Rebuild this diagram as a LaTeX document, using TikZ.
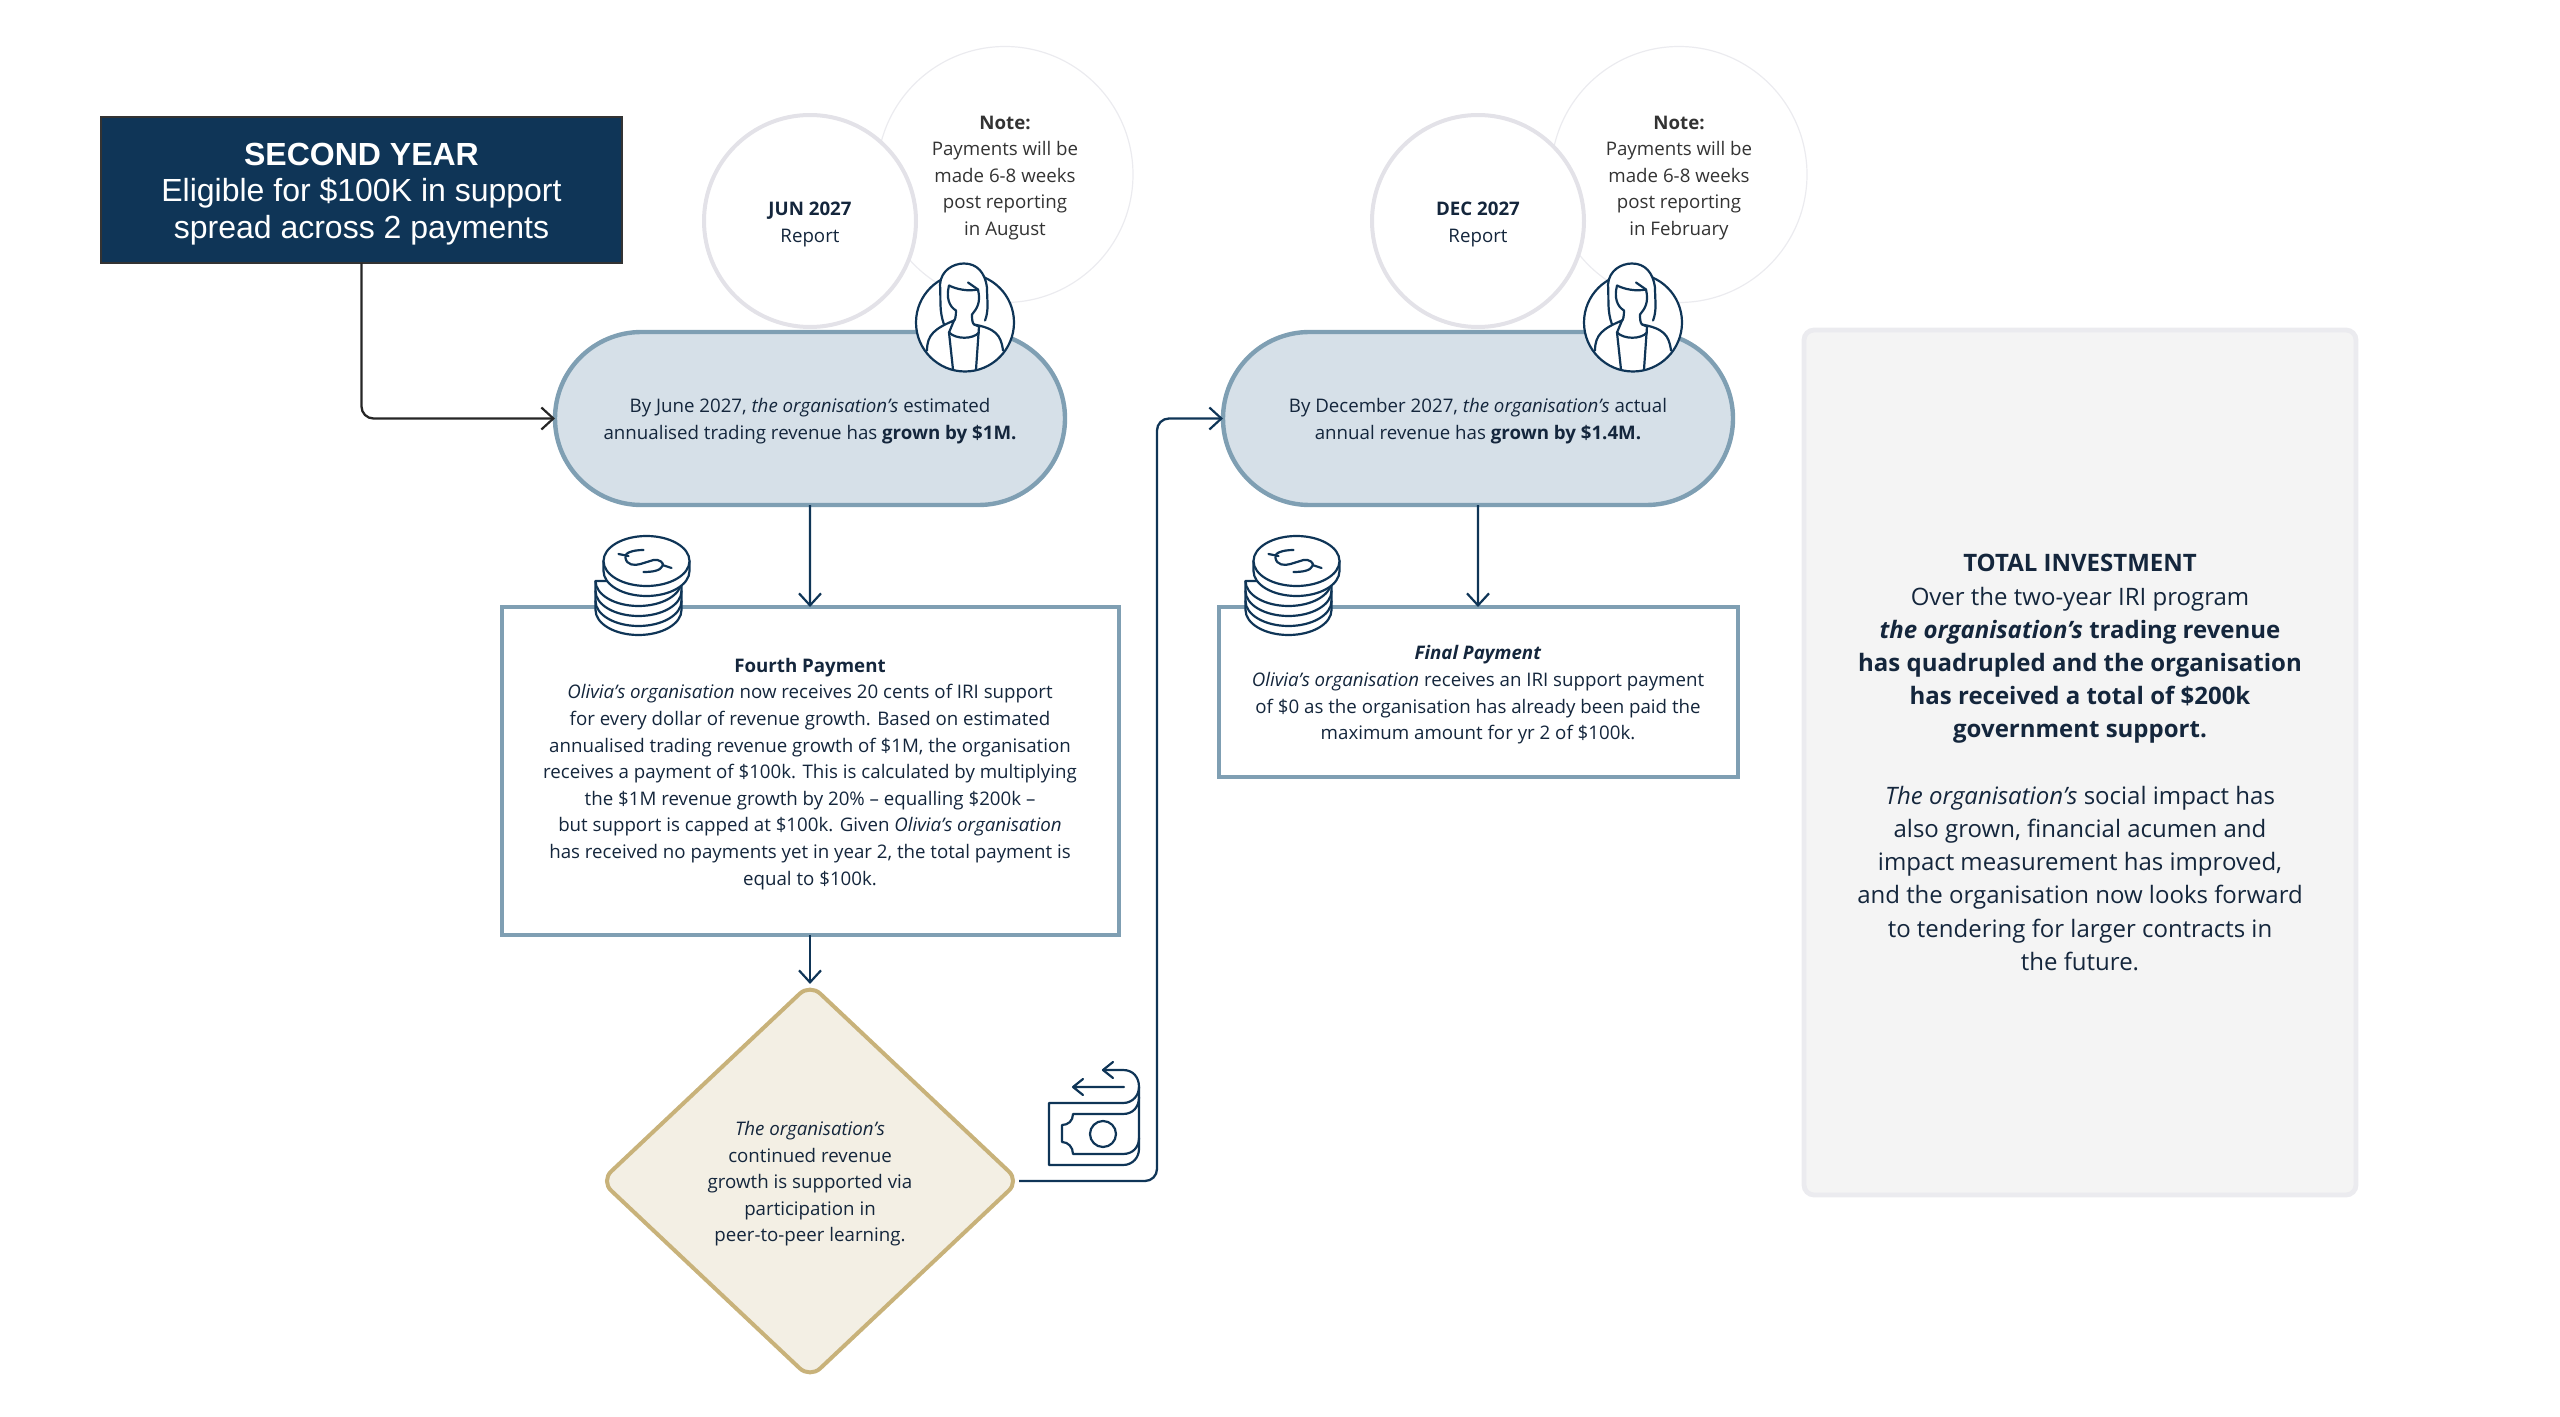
\documentclass[tikz,border=0pt]{standalone}
\usepackage{xcolor}
\usepackage{fontspec}
\setmainfont{Open Sans}
\newfontfamily\headfont{Liberation Sans}
\usetikzlibrary{shapes.geometric, shapes.misc, arrows.meta, positioning, calc}
\definecolor{navyline}{RGB}{15, 53, 87}
\definecolor{inktext}{RGB}{20, 38, 60}
\definecolor{steelline}{RGB}{127, 159, 179}
\definecolor{steelfill}{RGB}{214, 224, 232}
\definecolor{sandline}{RGB}{200, 178, 122}
\definecolor{sandfill}{RGB}{243, 239, 228}
\definecolor{ringgrey}{RGB}{227, 226, 232}
\definecolor{panelfill}{RGB}{244, 244, 244}
\definecolor{notegrey}{RGB}{51, 51, 51}
\newcommand{\lifttext}{\rule{0pt}{10pt}}
\newcommand{\liftlarge}{\rule{0pt}{15.2pt}}

\begin{document}
\begin{tikzpicture}[
    x=0.5pt, y=-0.5pt,
    every node/.style={outer sep=0pt, inner sep=0pt, align=center, text=inktext, font=\fontsize{9.35}{13.3}\selectfont},
    header/.style={rectangle, draw=black!80, line width=0.6pt, fill=navyline, minimum width=260.5pt, minimum height=73pt, text=white, font=\headfont\fontsize{16}{18.4}\selectfont},
    pill/.style={rounded rectangle, draw=steelline, line width=2.2pt, fill=steelfill, minimum width=255pt, minimum height=86.5pt},
    paybox/.style={rectangle, draw=steelline, line width=2pt, fill=white},
    report/.style={circle, draw=ringgrey, line width=2pt, fill=white, minimum size=106pt},
    note/.style={circle, draw=ringgrey!70, line width=0.6pt, minimum size=128pt, text=notegrey},
    decision/.style={diamond, draw=sandline, line width=2pt, fill=sandfill, rounded corners=7pt, minimum width=209pt, minimum height=197pt},
    panel/.style={rectangle, draw=ringgrey!70, line width=2.4pt, rounded corners=5pt, fill=panelfill, minimum width=276pt, minimum height=432.5pt, font=\fontsize{12}{16.6}\selectfont},
    arrow/.style={-{Straight Barb[length=6pt, width=11pt, line width=1.1pt]}, line width=1.15pt, draw=navyline},
    icon/.style={line width=1.1pt, draw=navyline, line join=round, line cap=round},
    personicon/.pic={
        \draw[icon, fill=white] (0,0) circle (49);
        % hair
        \draw[icon, fill=white] (-21,2) .. controls (-26,-12) and (-24,-22) .. (-25,-38) .. controls (-24,-52) and (-12,-59) .. (-1,-59) .. controls (12,-59) and (20,-50) .. (22,-35) .. controls (22,-22) and (24,-12) .. (20,-2);
        % face
        \draw[icon] (3,-40) -- (13,-33) .. controls (16,-20) and (12,-14) .. (7,-8) .. controls (7,-4) and (7,0) .. (9,2);
        \draw[icon] (13,-33) .. controls (3,-31) and (-8,-33) .. (-16,-37) .. controls (-19,-25) and (-16,-16) .. (-9,-12) .. controls (-9,-6) and (-10,-2) .. (-11,-2);
        \draw[icon] (-16,10) .. controls (-9,17) and (8,17) .. (14,10);
        % shoulders and jacket
        \draw[icon] (-38,28) .. controls (-38,12) and (-30,6) .. (-11,-2) -- (-16,10) -- (-12,47);
        \draw[icon] (38,28) .. controls (36,12) and (30,6) .. (9,2) -- (14,4) -- (11,47);
    },
    coinstack/.pic={
        % lower coins
        \draw[icon, fill=white] (-51,20) -- (-51,49) arc[start angle=180, end angle=0, x radius=43, y radius=25] -- (35,20) -- cycle;
        \foreach \lowy in {40,30,20} {
            \draw[icon] (-51,\lowy) arc[start angle=180, end angle=0, x radius=43, y radius=25];
        }
        % top coin
        \draw[icon, fill=white] (-43,0) -- (-43,10) arc[start angle=180, end angle=0, x radius=43, y radius=25] -- (43,0);
        \draw[icon, fill=white] (0,0) ellipse [x radius=43, y radius=25];
        % dollar sign
        \draw[icon] (-3,-11) .. controls (-14,-11) and (-23,-8) .. (-21,-3) .. controls (-20,4) and (-12,5) .. (-6,3) -- (7,-1) .. controls (13,-2) and (18,2) .. (16,5) .. controls (14,10) and (5,11) .. (-3,11);
        \draw[icon] (-28,-7) -- (-18,-5);
        \draw[icon] (16,4) -- (25,7);
    },
    cashicon/.pic={
        % note
        \draw[icon] (74,0) -- (0,0) -- (0,62) -- (74,62) .. controls (84,62) and (90,54) .. (90,46) -- (90,-16) .. controls (90,-26) and (84,-33) .. (74,-33) -- (54,-33);
        \draw[icon] (54,-33) -- +(10,-8) (54,-33) -- +(10,8);
        \draw[icon] (74,0) .. controls (84,0) and (90,-8) .. (90,-16);
        \draw[icon] (90,-6) .. controls (90,4) and (84,11) .. (74,11) -- (24,11) .. controls (24,18) and (19,22) .. (13,22) -- (13,39) .. controls (19,39) and (24,44) .. (24,51) -- (74,51) .. controls (84,51) and (90,44) .. (90,35);
        \draw[icon] (54,31) circle (13);
        \draw[icon] (75,-16) -- (24,-16) (24,-16) -- +(10,-8) (24,-16) -- +(10,8);
    }
]
\useasboundingbox (0,0) rectangle (2560,1417);

% Second year header
\node[header] (header) at (361.5,190) {\liftlarge\textbf{SECOND YEAR}\\Eligible for \$100K in support\\spread across 2 payments};

% Payment flow
\node[pill] (pilljun) at (810,418.5) {\lifttext By June 2027, \textit{the organisation's} estimated\\annualised trading revenue has \textbf{grown by \$1M.}};
\node[paybox, below=51pt of pilljun, minimum width=308.5pt, minimum height=164pt] (boxfourth) {\lifttext\textbf{Fourth Payment}\\\textit{Olivia's organisation} now receives 20 cents of IRI support\\for every dollar of revenue growth. Based on estimated\\annualised trading revenue growth of \$1M, the organisation\\receives a payment of \$100k. This is calculated by multiplying\\the \$1M revenue growth by 20\% -- equalling \$200k --\\but support is capped at \$100k. Given \textit{Olivia's organisation}\\has received no payments yet in year 2, the total payment is\\equal to \$100k.};
\node[decision, below=24.5pt of boxfourth] (learning) {\lifttext\textit{The organisation's}\\continued revenue\\growth is supported via\\participation in\\peer-to-peer learning.};
\node[pill, right=79pt of pilljun] (pilldec) {\lifttext By December 2027, \textit{the organisation's} actual\\annual revenue has \textbf{grown by \$1.4M.}};
\node[paybox, below=51pt of pilldec, minimum width=259.5pt, minimum height=85pt] (boxfinal) {\lifttext\textbf{\textit{Final Payment}}\\\textit{Olivia's organisation} receives an IRI support payment\\of \$0 as the organisation has already been paid the\\maximum amount for yr 2 of \$100k.};

% Report circles
\node[note] (notejun) at ($(pilljun)+(195,-244)$) {\lifttext\textbf{Note:}\\Payments will be\\made 6-8 weeks\\post reporting\\in August};
\node[report, above=2.5pt of pilljun] (reportjun) {\lifttext\textbf{JUN 2027}\\Report};
\node[note] (notedec) at ($(pilldec)+(201,-244)$) {\lifttext\textbf{Note:}\\Payments will be\\made 6-8 weeks\\post reporting\\in February};
\node[report, above=2.5pt of pilldec] (reportdec) {\lifttext\textbf{DEC 2027}\\Report};

% Total panel
\node[panel] (total) at (2080,762.5) {\textbf{TOTAL INVESTMENT}\\Over the two-year IRI program\\\textbf{\textit{the organisation's} trading revenue}\\\textbf{has quadrupled and the organisation}\\\textbf{has received a total of \$200k}\\\textbf{government support.}\\\mbox{}\\\textit{The organisation's} social impact has\\also grown, financial acumen and\\impact measurement has improved,\\and the organisation now looks forward\\to tendering for larger contracts in\\the future.};

% Arrows
\coordinate (turn) at (1157,800);
\draw[arrow, draw=black!85, rounded corners=6pt] (header.south) |- (pilljun.west);
\draw[arrow] (pilljun) -- (boxfourth);
\draw[arrow] (boxfourth) -- (learning);
\draw[arrow, rounded corners=6pt] (learning.east) -| (turn) |- (pilldec.west);
\draw[arrow] (pilldec) -- (boxfinal);

% Icons
\pic at ($(pilljun)+(155,-96)$) {personicon};
\pic at ($(pilldec)+(155,-96)$) {personicon};
\pic at ($(boxfourth.north west)+(145,-46)$) {coinstack};
\pic at ($(boxfinal.north west)+(78,-46)$) {coinstack};
\pic at (1049,1103) {cashicon};

\end{tikzpicture}
\end{document}
